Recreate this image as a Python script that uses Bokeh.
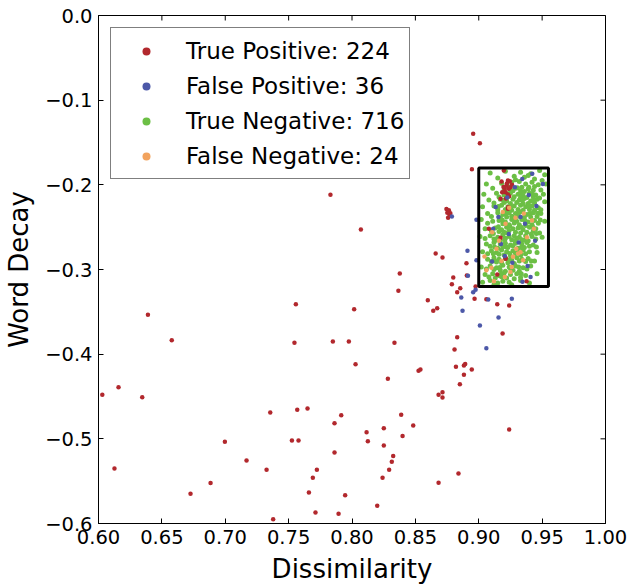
import math
from bokeh.plotting import figure
from bokeh.models import Range1d, FixedTicker, Legend, LegendItem, Label
from bokeh.embed import file_html
from bokeh.resources import INLINE

# ---------------- data ----------------
x_ticks = [0.60, 0.65, 0.70, 0.75, 0.80, 0.85, 0.90, 0.95, 1.00]
x_tick_labels = ["0.60", "0.65", "0.70", "0.75", "0.80", "0.85", "0.90", "0.95", "1.00"]
y_ticks = [0.0, -0.1, -0.2, -0.3, -0.4, -0.5, -0.6]
y_tick_labels = ["0.0", "\u22120.1", "\u22120.2", "\u22120.3", "\u22120.4", "\u22120.5", "\u22120.6"]

legend_labels = ["True Positive: 224", "False Positive: 36", "True Negative: 716", "False Negative: 24"]
corner_text = "%"

box_left, box_right, box_top, box_bottom = 0.90, 0.955, -0.18, -0.32

tp_x = [0.639, 0.6578, 0.603, 0.6158, 0.6345, 0.6126, 0.6726, 0.6884, 0.6997, 0.7168,
        0.7326, 0.7355, 0.7378, 0.7557, 0.7546, 0.7568, 0.7526, 0.7578, 0.7649, 0.766,
        0.7691, 0.7723, 0.7712, 0.7849, 0.7975, 0.8017, 0.8028, 0.7862, 0.7915, 0.7862,
        0.7946, 0.7894,
        0.783, 0.807, 0.8377, 0.8366, 0.8598, 0.8672, 0.8641, 0.8335, 0.8283, 0.8525,
        0.854, 0.8388, 0.8483, 0.8251, 0.8115, 0.8125, 0.8399, 0.8251, 0.8325, 0.8314,
        0.8293, 0.8241, 0.8683, 0.884, 0.8199, 0.924,
        0.8956, 0.9009, 0.8946, 0.8764, 0.8752, 0.8770, 0.8758, 0.8776, 0.8745, 0.866,
        0.8714, 0.8903, 0.8906, 0.8799, 0.8788, 0.8854, 0.883, 0.8967, 0.8975, 0.906,
        0.9146, 0.924, 0.9188, 0.883, 0.8809, 0.882, 0.8883, 0.8893, 0.8945, 0.8883,
        0.8851, 0.8683, 0.8714, 0.8714,
        0.9198, 0.923, 0.9245, 0.9219, 0.9237, 0.925, 0.9211, 0.923, 0.9185, 0.9172,
        0.9222, 0.9205, 0.9262, 0.9240, 0.9195, 0.9215, 0.9180, 0.908, 0.9172, 0.923,
        0.9146, 0.9377, 0.9211, 0.9233, 0.9212]
tp_y = [-0.3535, -0.3835, -0.448, -0.439, -0.451, -0.535, -0.565, -0.5523, -0.5035, -0.5255,
        -0.5366, -0.4689, -0.5949, -0.341, -0.3866, -0.4657, -0.502, -0.502, -0.4641, -0.5633,
        -0.546, -0.5366, -0.587, -0.385, -0.385, -0.347, -0.4118, -0.4815, -0.472, -0.516,
        -0.5665, -0.5885,
        -0.2118, -0.2527, -0.3047, -0.3252, -0.3362, -0.3457, -0.3488, -0.3866, -0.429, -0.4196,
        -0.418, -0.4716, -0.4842, -0.4874, -0.4921, -0.503, -0.4968, -0.5078, -0.5204, -0.527,
        -0.5366, -0.546, -0.552, -0.5409, -0.579, -0.489,
        -0.1397, -0.1508, -0.1815, -0.230, -0.233, -0.236, -0.239, -0.2335, -0.2285, -0.281,
        -0.2858, -0.2925, -0.307, -0.3094, -0.3173, -0.322, -0.3268, -0.3346, -0.3200, -0.335,
        -0.341, -0.3425, -0.3756, -0.380, -0.3945, -0.4149, -0.4133, -0.4115, -0.418, -0.4243,
        -0.4354, -0.448, -0.4449, -0.4511,
        -0.183, -0.1949, -0.1957, -0.2008, -0.2047, -0.2028, -0.2087, -0.2114, -0.2087, -0.2165,
        -0.1985, -0.2050, -0.2000, -0.2135, -0.2025, -0.2160, -0.1960, -0.252, -0.2625, -0.2283,
        -0.3059, -0.3138, -0.2862, -0.2264, -0.2874]

fp_x = [0.8788, 0.8982, 0.8911, 0.8982, 0.8915, 0.8862, 0.8956, 0.8975, 0.8872, 0.9075,
        0.9261, 0.9156, 0.9009, 0.9060, 0.9343, 0.9422, 0.9506, 0.9133, 0.9237, 0.9330,
        0.9409, 0.9114, 0.9395, 0.9175, 0.9285, 0.9365, 0.9205, 0.9445, 0.9265, 0.9155,
        0.9315, 0.9455, 0.9225, 0.9385, 0.9105, 0.9345]
fp_y = [-0.2374, -0.2413, -0.2780, -0.2890, -0.3075, -0.3330, -0.3268, -0.3240, -0.3488, -0.3355,
        -0.3346, -0.3567, -0.3661, -0.3930, -0.1930, -0.1870, -0.1990, -0.2263, -0.2580, -0.2380,
        -0.3090, -0.2520, -0.2120, -0.2700, -0.2030, -0.2460, -0.2840, -0.2660, -0.2920, -0.2380,
        -0.2680, -0.2250, -0.2150, -0.2960, -0.2905, -0.3145]

tn_x = [
    0.909, 0.921, 0.933, 0.941, 0.948, 0.952,
    0.915, 0.928, 0.936, 0.944, 0.929, 0.939, 0.950,
    0.906, 0.918, 0.926, 0.932, 0.937, 0.942, 0.947, 0.953,
    0.911, 0.923, 0.929, 0.934, 0.939, 0.944, 0.949, 0.927, 0.936,
    0.904, 0.914, 0.920, 0.925, 0.931, 0.935, 0.940, 0.945, 0.951, 0.928, 0.938,
    0.908, 0.917, 0.922, 0.927, 0.932, 0.936, 0.941, 0.946, 0.930, 0.925, 0.939, 0.952,
    0.903, 0.912, 0.918, 0.923, 0.928, 0.933, 0.937, 0.942, 0.947, 0.921, 0.931, 0.935, 0.944,
    0.907, 0.915, 0.919, 0.924, 0.929, 0.933, 0.938, 0.943, 0.949, 0.926, 0.936, 0.941, 0.917,
    0.902, 0.911, 0.916, 0.921, 0.926, 0.930, 0.934, 0.939, 0.944, 0.952, 0.924, 0.932, 0.937, 0.942,
    0.905, 0.913, 0.918, 0.922, 0.927, 0.931, 0.935, 0.940, 0.945, 0.920, 0.929, 0.933, 0.938, 0.948,
    0.901, 0.909, 0.915, 0.919, 0.924, 0.928, 0.932, 0.937, 0.942, 0.926, 0.917, 0.934, 0.939, 0.950,
    0.906, 0.912, 0.917, 0.921, 0.925, 0.929, 0.934, 0.938, 0.943, 0.923, 0.931, 0.915, 0.936,
    0.903, 0.910, 0.914, 0.918, 0.922, 0.927, 0.931, 0.935, 0.940, 0.946, 0.920, 0.925, 0.933,
    0.907, 0.912, 0.916, 0.921, 0.926, 0.930, 0.934, 0.939, 0.918, 0.923, 0.928, 0.944,
    0.902, 0.909, 0.914, 0.919, 0.924, 0.929, 0.935, 0.941, 0.917, 0.921, 0.927, 0.932,
    0.905, 0.911, 0.916, 0.920, 0.925, 0.930, 0.937, 0.946, 0.913, 0.922, 0.928,
    0.903, 0.909, 0.915, 0.919, 0.924, 0.933, 0.940, 0.926, 0.912,
    0.920, 0.925, 0.933, 0.943,
    0.916, 0.923, 0.933, 0.943, 0.948,
    0.912, 0.920, 0.935, 0.944,
    0.915, 0.926, 0.940, 0.949,
    0.910, 0.922, 0.931, 0.946,
    0.907, 0.919, 0.928, 0.947,
    0.910, 0.916, 0.924, 0.943,
    0.905, 0.912, 0.921, 0.930, 0.945,
    0.909, 0.919, 0.927, 0.940,
    0.907, 0.916, 0.929, 0.937,
    0.910, 0.914, 0.932, 0.937,
    0.906, 0.912, 0.925, 0.938,
    0.908, 0.918, 0.933,
    0.9305, 0.9395,
    0.9225, 0.9335, 0.9425,
    0.9195, 0.9345, 0.9435,
    0.9155, 0.9255, 0.9395,
    0.9215, 0.9315, 0.9405, 0.9465,
    0.9185, 0.9285, 0.9365, 0.9485,
    0.9155, 0.9245, 0.9335, 0.9425,
    0.9115, 0.9225, 0.9415, 0.9455,
    0.9135, 0.9205, 0.9285, 0.9365,
    0.9125, 0.9215, 0.9335, 0.9455,
    0.9115, 0.9245, 0.9335,
    0.9125, 0.9235, 0.9415,
    0.9165, 0.9315,
    0.9175, 0.9335,
]
tn_y = [
    -0.186, -0.184, -0.185, -0.187, -0.183, -0.188,
    -0.192, -0.190, -0.191, -0.193, -0.194, -0.189, -0.195,
    -0.199, -0.198, -0.197, -0.196, -0.199, -0.197, -0.200, -0.199,
    -0.204, -0.202, -0.204, -0.203, -0.205, -0.202, -0.206, -0.207, -0.208,
    -0.211, -0.210, -0.212, -0.210, -0.211, -0.213, -0.210, -0.212, -0.211, -0.214, -0.215,
    -0.218, -0.217, -0.219, -0.217, -0.218, -0.216, -0.219, -0.217, -0.221, -0.222, -0.222, -0.220,
    -0.226, -0.225, -0.224, -0.226, -0.225, -0.224, -0.226, -0.225, -0.227, -0.229, -0.229, -0.230, -0.230,
    -0.234, -0.233, -0.235, -0.233, -0.234, -0.232, -0.235, -0.233, -0.234, -0.237, -0.238, -0.238, -0.239,
    -0.241, -0.243, -0.242, -0.244, -0.241, -0.243, -0.241, -0.244, -0.242, -0.243, -0.247, -0.247, -0.248, -0.247,
    -0.252, -0.251, -0.253, -0.250, -0.252, -0.251, -0.253, -0.250, -0.252, -0.256, -0.256, -0.257, -0.256, -0.257,
    -0.261, -0.260, -0.262, -0.259, -0.261, -0.260, -0.262, -0.260, -0.261, -0.265, -0.266, -0.265, -0.266, -0.262,
    -0.270, -0.268, -0.270, -0.269, -0.271, -0.269, -0.270, -0.268, -0.271, -0.274, -0.275, -0.275, -0.274,
    -0.279, -0.278, -0.280, -0.277, -0.279, -0.278, -0.280, -0.277, -0.279, -0.280, -0.283, -0.284, -0.283,
    -0.288, -0.286, -0.288, -0.287, -0.289, -0.286, -0.288, -0.287, -0.292, -0.292, -0.293, -0.290,
    -0.297, -0.296, -0.298, -0.295, -0.297, -0.296, -0.298, -0.296, -0.301, -0.302, -0.301, -0.302,
    -0.306, -0.305, -0.307, -0.304, -0.306, -0.305, -0.307, -0.305, -0.310, -0.310, -0.311,
    -0.315, -0.313, -0.316, -0.314, -0.315, -0.313, -0.316, -0.318, -0.318,
    -0.2065, -0.2060, -0.2070, -0.2065,
    -0.2145, -0.2140, -0.2150, -0.2145, -0.2155,
    -0.2215, -0.2210, -0.2220, -0.2215,
    -0.2295, -0.2300, -0.2290, -0.2295,
    -0.2375, -0.2380, -0.2370, -0.2375,
    -0.2455, -0.2460, -0.2450, -0.2455,
    -0.2545, -0.2550, -0.2540, -0.2545,
    -0.2635, -0.2640, -0.2630, -0.2635, -0.2640,
    -0.2725, -0.2730, -0.2720, -0.2725,
    -0.2815, -0.2820, -0.2810, -0.2815,
    -0.2905, -0.2910, -0.2900, -0.2905,
    -0.2995, -0.3000, -0.2990, -0.2995,
    -0.3090, -0.3085, -0.3095,
    -0.2035, -0.2030,
    -0.2105, -0.2100, -0.2110,
    -0.2185, -0.2180, -0.2190,
    -0.2255, -0.2260, -0.2250,
    -0.2335, -0.2330, -0.2340, -0.2335,
    -0.2415, -0.2410, -0.2420, -0.2415,
    -0.2495, -0.2490, -0.2500, -0.2495,
    -0.2575, -0.2570, -0.2580, -0.2575,
    -0.2655, -0.2650, -0.2660, -0.2655,
    -0.2735, -0.2730, -0.2740, -0.2735,
    -0.2815, -0.2810, -0.2820,
    -0.2895, -0.2890, -0.2900,
    -0.2975, -0.2970,
    -0.3055, -0.3050,
]

fn_x = [0.9045, 0.910, 0.914, 0.925, 0.9206, 0.9296, 0.933, 0.9435, 0.9356, 0.9211,
        0.9106, 0.927, 0.931, 0.918, 0.938, 0.924, 0.929, 0.916, 0.906, 0.935,
        0.942, 0.919, 0.912, 0.926]
fn_y = [-0.2846, -0.298, -0.2755, -0.303, -0.309, -0.2755, -0.2795, -0.252, -0.234, -0.246,
        -0.256, -0.285, -0.281, -0.290, -0.262, -0.227, -0.239, -0.266, -0.301, -0.289,
        -0.242, -0.232, -0.314, -0.297]

# ---------------- style ----------------
RED, BLUE, GREEN, ORANGE = "#b2282d", "#4c58a8", "#6cbf45", "#f2a35e"
FONT = "DejaVu Sans"
X0, X1 = x_ticks[0], x_ticks[-1]
Y0, Y1 = y_ticks[-1], y_ticks[0]

p = figure(width=638, height=586, x_range=Range1d(X0, X1), y_range=Range1d(Y0, Y1),
           output_backend="svg", toolbar_location=None,
           min_border_left=98, min_border_right=33, min_border_top=15, min_border_bottom=63)
p.grid.visible = False
p.outline_line_color = "black"
p.outline_line_width = 1
p.background_fill_color = "white"
p.border_fill_color = "white"

bottom = p.below[0]
left = p.left[0]
bottom.ticker = FixedTicker(ticks=x_ticks)
left.ticker = FixedTicker(ticks=y_ticks)
bottom.major_label_overrides = dict(zip(x_ticks, x_tick_labels))
left.major_label_overrides = dict(zip(y_ticks, y_tick_labels))
bottom.axis_label = "Dissimilarity"
left.axis_label = "Word Decay"
for ax in (bottom, left):
    ax.axis_line_color = "black"
    ax.major_tick_line_color = "black"
    ax.major_tick_in = 5
    ax.major_tick_out = 0
    ax.minor_tick_line_color = None
    ax.major_label_text_font = FONT
    ax.major_label_text_font_size = "19.5px"
    ax.major_label_text_color = "black"
    ax.axis_label_text_font = FONT
    ax.axis_label_text_font_size = "26px"
    ax.axis_label_text_font_style = "normal"
    ax.axis_label_text_color = "black"
bottom.major_label_standoff = 6
bottom.axis_label_standoff = 7
left.major_label_standoff = 6
left.axis_label_standoff = 8

# inward ticks on the top and right spines (half of each dash is clipped by the frame)
p.scatter(x_ticks, [Y1] * len(x_ticks), marker="dash", size=10, angle=math.pi / 2,
          line_color="black", line_width=1)
p.scatter([X1] * len(y_ticks), y_ticks, marker="dash", size=10, angle=0,
          line_color="black", line_width=1)

# points (TN first so that TP/FP/FN sit on top)
r_tn = p.scatter(tn_x, tn_y, size=5, fill_color=GREEN, line_color=None)
r_tp = p.scatter(tp_x, tp_y, size=4.5, fill_color=RED, line_color=None)
r_fp = p.scatter(fp_x, fp_y, size=4.5, fill_color=BLUE, line_color=None)
r_fn = p.scatter(fn_x, fn_y, size=4.5, fill_color=ORANGE, line_color=None)

# highlight box
p.quad(left=[box_left], right=[box_right], top=[box_top], bottom=[box_bottom],
       fill_color=None, line_color="black", line_width=3)

legend = Legend(items=[LegendItem(label=lab, renderers=[r]) for lab, r in
                       zip(legend_labels, [r_tp, r_fp, r_tn, r_fn])],
                location="top_left", margin=12, padding=5, spacing=0,
                glyph_width=60, glyph_height=20, label_height=35, label_standoff=10,
                label_text_font=FONT, label_text_font_size="23px", label_text_color="black",
                border_line_color="black", border_line_width=1.2,
                background_fill_color="white", background_fill_alpha=1.0)
p.add_layout(legend)

# fragment of a cropped heading at the top-left corner
p.add_layout(Label(x=6, y=41, x_units="canvas", y_units="canvas", text=corner_text,
                   text_align="left", text_baseline="middle",
                   text_font=FONT, text_font_size="27px", text_font_style="bold",
                   text_color="black"))

open("out.html", "w").write(file_html(p, INLINE))
